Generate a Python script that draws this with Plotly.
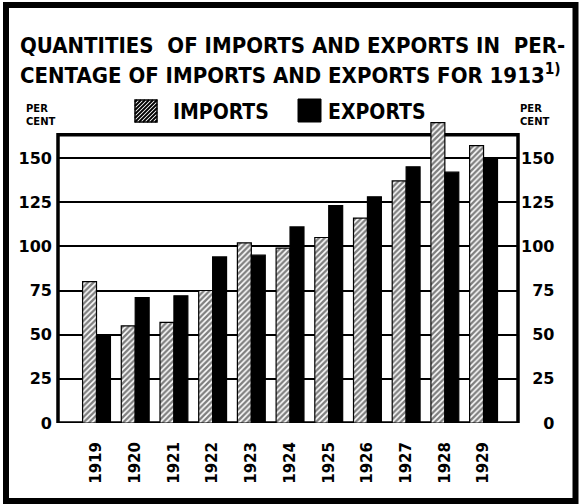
import plotly.graph_objects as go

# ---- data ----
years = ["1919", "1920", "1921", "1922", "1923", "1924", "1925", "1926", "1927", "1928", "1929"]
imports = [80, 55, 57, 75, 102, 99, 105, 116, 137, 170, 157]
exports = [49, 71, 72, 94, 95, 111, 123, 128, 145, 142, 150]
ytick_vals = [0, 25, 50, 75, 100, 125, 150]

# ---- layout geometry (pixels) ----
W, H = 581, 504
PL, PR, PT, PB = 58, 518, 120, 423   # plot area in pixels
FRAME_TOP = 163.2                    # value at the top of the drawn frame


def px(x):
    return (x - PL) / (PR - PL)


def py(y):
    return (PB - y) / (PB - PT)


xs = list(range(len(years)))
FIG_FONT = "DejaVu Sans, sans-serif"
NARROW = "DejaVu Sans Condensed, Liberation Sans Narrow, sans-serif"

fig = go.Figure()
fig.add_trace(go.Bar(
    x=xs, y=imports, name="IMPORTS",
    marker=dict(color="white", line=dict(color="black", width=1.2),
                pattern=dict(shape="/", fgcolor="black", bgcolor="white", size=4, solidity=0.6)),
    showlegend=False,
))
fig.add_trace(go.Bar(
    x=xs, y=exports, name="EXPORTS",
    marker=dict(color="black", line=dict(color="black", width=1.2)),
    showlegend=False,
))
# invisible helper trace so the right axis is drawn
fig.add_trace(go.Scatter(x=[0], y=[0], yaxis="y2", mode="markers",
                         marker=dict(opacity=0), showlegend=False, hoverinfo="skip"))

yr = [0, (PB - PT) / 1.7667]
right_text = [("\u2007" * (3 - len(str(v)))) + str(v) for v in ytick_vals]

fig.update_layout(
    width=W, height=H,
    margin=dict(l=PL, r=W - PR, t=PT, b=H - PB, pad=0),
    paper_bgcolor="white", plot_bgcolor="white",
    barmode="group", bargap=0.28, bargroupgap=0,
    xaxis=dict(range=[-0.995, 10.89], tickvals=xs, ticktext=years, tickangle=-90,
               showgrid=False, zeroline=False, showline=False, ticks="",
               ticklabelstandoff=15,
               tickfont=dict(family=FIG_FONT, size=15, color="black", weight="bold")),
    yaxis=dict(range=yr, tickvals=ytick_vals, ticktext=[str(v) for v in ytick_vals],
               showgrid=True, gridcolor="black", gridwidth=2, zeroline=False,
               showline=False, ticks="", ticklabelstandoff=5,
               tickfont=dict(family=FIG_FONT, size=16, color="black", weight="bold")),
    yaxis2=dict(range=yr, overlaying="y", side="right", tickvals=ytick_vals,
                ticktext=right_text, showgrid=False, zeroline=False, showline=False,
                ticks="", ticklabelstandoff=2,
                tickfont=dict(family=FIG_FONT, size=16, color="black", weight="bold")),
)

shapes = []
# plot frame
shapes.append(dict(type="rect", xref="paper", yref="y", x0=0, x1=1, y0=0, y1=FRAME_TOP,
                   line=dict(color="black", width=3.5), layer="below"))
# outer border
shapes.append(dict(type="rect", xref="paper", yref="paper", x0=px(6), x1=px(575.5),
                   y0=py(501), y1=py(5), line=dict(color="black", width=6)))


# legend swatches
def hatch_square(x0, ytop, s, step=4):
    out = [dict(type="rect", xref="paper", yref="paper", x0=px(x0), x1=px(x0 + s),
                y0=py(ytop + s), y1=py(ytop), fillcolor="white",
                line=dict(color="black", width=1.5))]
    path = ""
    c = -s + 2
    while c < s:
        u0 = max(0, -c)
        u1 = min(s, s - c)
        xa, ya = x0 + u0, (ytop + s) - (u0 + c)
        xb, yb = x0 + u1, (ytop + s) - (u1 + c)
        path += f"M{px(xa):.5f},{py(ya):.5f} L{px(xb):.5f},{py(yb):.5f} "
        c += step
    out.append(dict(type="path", xref="paper", yref="paper", path=path,
                    line=dict(color="black", width=1.8)))
    return out


shapes += hatch_square(135, 100, 22)
shapes.append(dict(type="rect", xref="paper", yref="paper", x0=px(298), x1=px(321),
                   y0=py(122), y1=py(99), fillcolor="black", line=dict(color="black", width=1)))

fig.update_layout(shapes=shapes)

TFONT = dict(family=NARROW, size=22, color="black", weight="bold")
ann = []
ann.append(dict(text="QUANTITIES  OF IMPORTS AND EXPORTS IN  PER-", x=px(18), y=py(46),
                xref="paper", yref="paper", xanchor="left", yanchor="middle", showarrow=False,
                font=TFONT))
ann.append(dict(text="CENTAGE OF IMPORTS AND EXPORTS FOR 1913<sup>1)</sup>", x=px(18), y=py(74),
                xref="paper", yref="paper", xanchor="left", yanchor="middle", showarrow=False,
                font=TFONT))
ann.append(dict(text="IMPORTS", x=px(171), y=py(112), xref="paper", yref="paper",
                xanchor="left", yanchor="middle", showarrow=False,
                font=dict(family=NARROW, size=21, color="black", weight="bold")))
ann.append(dict(text="EXPORTS", x=px(326), y=py(112), xref="paper", yref="paper",
                xanchor="left", yanchor="middle", showarrow=False,
                font=dict(family=NARROW, size=21, color="black", weight="bold")))
for xx in (24, 518):
    ann.append(dict(text="PER<br>CENT", x=px(xx), y=py(115), xref="paper", yref="paper",
                    xanchor="left", yanchor="middle", showarrow=False, align="left",
                    font=dict(family=FIG_FONT, size=10, color="black", weight="bold")))
fig.update_layout(annotations=ann)

fig.write_html("out.html", config={"displayModeBar": False},
               post_script="document.body.style.margin='0px';")
